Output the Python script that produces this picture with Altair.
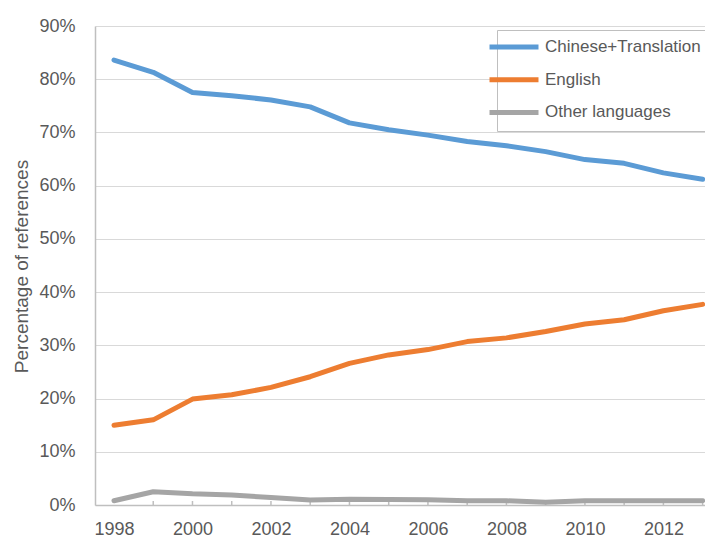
import altair as alt
import pandas as pd

years = list(range(1998, 2014))
chinese_translation = [83.6, 81.3, 77.5, 76.9, 76.1, 74.8, 71.8, 70.5, 69.5, 68.3, 67.5, 66.4, 64.9, 64.2, 62.4, 61.2]
english = [15.0, 16.0, 19.9, 20.7, 22.1, 24.1, 26.6, 28.2, 29.2, 30.7, 31.4, 32.6, 34.0, 34.8, 36.5, 37.7]
other_languages = [0.8, 2.5, 2.1, 1.9, 1.4, 0.95, 1.1, 1.05, 1.0, 0.8, 0.8, 0.5, 0.8, 0.8, 0.8, 0.8]

series_names = ["Chinese+Translation", "English", "Other languages"]
series_colors = ["#5B9BD5", "#ED7D31", "#A5A5A5"]
y_tick_values = [0, 10, 20, 30, 40, 50, 60, 70, 80, 90]
x_label_years = [1998, 2000, 2002, 2004, 2006, 2008, 2010, 2012]
x_tick_years = list(range(1999, 2014))

rows = []
for name, vals in zip(series_names, [chinese_translation, english, other_languages]):
    for yr, v in zip(years, vals):
        rows.append({"year": yr, "value": v, "series": name, "order": series_names.index(name)})
df = pd.DataFrame(rows)

FONT = "Liberation Sans, Arial, sans-serif"
TEXT = "#595959"
AXIS = "#bfbfbf"

x_scale = alt.Scale(domain=[1997.516, 2013.06], nice=False, zero=False)
y_scale = alt.Scale(domain=[0, 90], nice=False)

lines = alt.Chart(df).mark_line(strokeWidth=5, strokeCap="round", strokeJoin="round").encode(
    x=alt.X("year:Q", scale=x_scale,
            axis=alt.Axis(values=x_label_years, format="d", ticks=False, grid=False,
                          labelPadding=15, labelFontSize=18, labelFont=FONT, labelColor=TEXT,
                          domainColor=AXIS, domainWidth=1.5, title=None, labelFlush=False)),
    y=alt.Y("value:Q", scale=y_scale,
            axis=alt.Axis(values=y_tick_values, labelExpr="datum.value + '%'", ticks=False,
                          grid=True, gridColor="#d9d9d9", gridWidth=1.2,
                          labelPadding=20, labelFontSize=18, labelFont=FONT, labelColor=TEXT,
                          domainColor=AXIS, domainWidth=1.5,
                          title="Percentage of references", titleFont=FONT,
                          titleFontSize=19, titleFontWeight="normal", titleColor=TEXT,
                          titleAngle=270, titleX=-74, titleY=240, titleAlign="center",
                          titleBaseline="middle")),
    color=alt.Color("series:N", scale=alt.Scale(domain=series_names, range=series_colors),
                    legend=alt.Legend(title=None, orient="none", legendX=402, legendY=4,
                                      symbolType="M-4,0H4", symbolSize=150, symbolStrokeWidth=5,
                                      labelFontSize=17, labelFont=FONT, labelColor=TEXT,
                                      labelLimit=400, strokeColor=AXIS, fillColor="white",
                                      padding=8, rowPadding=12.7, labelOffset=22)),
    order=alt.Order("order:Q", sort="descending"),
)

ticks = alt.Chart(pd.DataFrame({"year": x_tick_years})).mark_rule(color=AXIS, strokeWidth=1.5).encode(
    x=alt.X("year:Q", scale=x_scale),
    y=alt.datum(0),
    y2=alt.datum(0.75),
)

chart = alt.layer(ticks, lines).properties(
    width=610, height=479,
    padding={"left": 87, "top": 18, "right": 0, "bottom": 35},
    autosize=alt.AutoSizeParams(type="none"),
    background="white",
).configure_view(stroke=None)

chart.save("out.html", embed_options={"renderer": "svg", "actions": False})
